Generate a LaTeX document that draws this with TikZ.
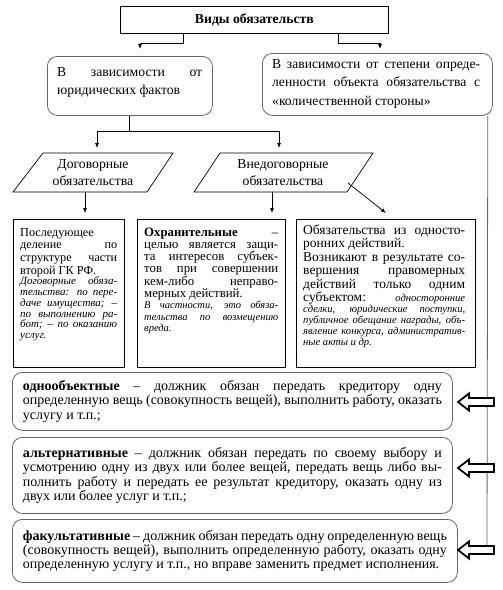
\documentclass[tikz,border=0pt]{standalone}
\usepackage{fontspec}
\setmainfont{Liberation Serif}
\usetikzlibrary{arrows.meta,calc}
\tolerance=10000 \hbadness=10000 \hfuzz=6pt \hyphenpenalty=10000
\newcommand{\fs}[2]{\fontsize{#1}{#2}\selectfont}
\newcommand{\smit}[2]{\fontsize{#1}{#2}\selectfont\itshape}
\begin{document}
\begin{tikzpicture}[x=1pt,y=-1pt,
  rbox/.style={draw=black!60, line width=0.8pt, rounded corners=10pt, anchor=north west, inner sep=0pt},
  sbox/.style={draw=black, line width=0.8pt, anchor=north west, inner sep=0pt},
  txt/.style={anchor=north west, inner sep=0pt, align=justify},
  arr/.style={-{Latex[length=5pt,width=4pt]}, line width=0.7pt},
  conn/.style={line width=0.7pt},
  hollow/.style={draw=black, line width=1.8pt, fill=white, line join=miter}]
\useasboundingbox[fill=white] (0,0) rectangle (503,590);

% title
\node[sbox, minimum width=268, minimum height=27, font=\bfseries\fs{13.7}{15}] (t) at (120,6) {Виды обязательств};

% level 2
\node[rbox, minimum width=165, minimum height=59] (L) at (47,56) {};
\node[txt, text width=145, font=\fs{13.7}{18}] (Lt) at (57,67) {В зависимости от\linebreak юридических фактов};
\node[rbox, minimum width=230, minimum height=62] (R) at (262,53) {};
\node[txt, text width=208, font=\fs{13.6}{18.7}] (Rt) at (272,59) {В зависимости от степени опреде-\linebreak ленности объекта обязательства с\linebreak «количественной стороны»};

% parallelograms
\draw[line width=0.7pt] (43,153) -- (173,153) -- (147,192) -- (13,192) -- cycle;
\node[align=center, inner sep=0pt, font=\fs{13.7}{17}] (pL) at (93,172.5) {Договорные\\обязательства};
\draw[line width=0.7pt] (220,153) -- (373,153) -- (347,192) -- (194,192) -- cycle;
\node[align=center, inner sep=0pt, font=\fs{13.7}{17}] (pR) at (283,172.5) {Внедоговорные\\обязательства};

% third row boxes
\node[sbox, minimum width=111, minimum height=148] (b1) at (13,219) {};
\node[txt, text width=97] (b1t) at (20,228) {\fs{12.2}{12.7}Последующее\linebreak деление по\linebreak структуре части\linebreak второй ГК РФ.\par
\smit{11}{10.7}Договорные обяза-\linebreak тельства: по пере-\linebreak даче имущества; –\linebreak по выполнению ра-\linebreak бот; – по оказанию\linebreak услуг.\par};
\node[sbox, minimum width=148, minimum height=148] (b2) at (137,219) {};
\node[txt, text width=134] (b2t) at (144,228) {\fs{12.8}{12.1}\textbf{Охранительные} –\linebreak целью является защи-\linebreak та интересов субъек-\linebreak тов при совершении\linebreak кем-либо неправо-\linebreak мерных действий.\par
\smit{10.5}{11.5}В частности, это обяза-\linebreak тельства по возмещению\linebreak вреда.\par};
\node[sbox, minimum width=179, minimum height=148] (b3) at (296,219) {};
\node[txt, text width=162] (b3t) at (303,224.5) {\fs{13.5}{13.5}Обязательства из односто-\linebreak ронних действий.\par
Возникают в результате со-\linebreak вершения правомерных\linebreak действий только одним\linebreak субъектом:\hfill{\smit{10.6}{11}односторонние}\par
\smit{10.6}{11}сделки, юридические поступки,\linebreak публичное обещание награды, объ-\linebreak явление конкурса, административ-\linebreak ные акты и др.\par};

% bottom boxes
\tikzset{bt/.style={rbox, text width=#1, inner xsep=10.5pt, align=justify, font=\fs{14}{14.3}}}
\node[bt=419, minimum width=440, minimum height=58] (A) at (12,372) {\textbf{однообъектные} – должник обязан передать кредитору одну\linebreak определенную вещь (совокупность вещей), выполнить работу, оказать\linebreak услугу и т.п.;};
\node[bt=419, minimum width=440, minimum height=76] (B) at (12,437) {\textbf{альтернативные} – должник обязан передать по своему выбору и\linebreak усмотрению одну из двух или более вещей, передать вещь либо вы-\linebreak полнить работу и передать ее результат кредитору, оказать одну из\linebreak двух или более услуг и т.п.;};
\node[bt=424, minimum width=445, minimum height=63] (C) at (12,519) {\textbf{факультативные} – должник обязан передать одну определенную вещь\linebreak (совокупность вещей), выполнить определенную работу, оказать одну\linebreak определенную услугу и т.п., но вправе заменить предмет исполнения.};

% connectors
\draw[arr] ($(t.south west)+(63,0)$) |- (140,43) -- ($(L.north west)+(93,-7)$);
\draw[arr] ($(t.south west)+(218,0)$) |- (380,43) -- ($(R.north west)+(118,-4)$);
\draw[conn] (L.south -| 129,0) -- (129,131);
\draw[conn] (97,131) -- (279,131);
\draw[arr] (97,131) -- (97,148);
\draw[arr] (279,131) -- (279,148);
\draw[arr] (85,192) -- ($(b1.north west)+(72,-6)$);
\draw[arr] (272,192) -- ($(b2.north west)+(135,-6)$);
\draw[arr] (348,183) -- (386,213);

% right side
\draw[line width=0.8pt, black!60] ($(R.south east)+(-5,0)$) -- (487,546);
\foreach \yy in {402,468,550}{
  \draw[hollow] (458,\yy) -- (469,\yy-8.5) -- (469,\yy-4) -- (494,\yy-4) -- (494,\yy+4) -- (469,\yy+4) -- (469,\yy+8.5) -- cycle;
}
\end{tikzpicture}
\end{document}
